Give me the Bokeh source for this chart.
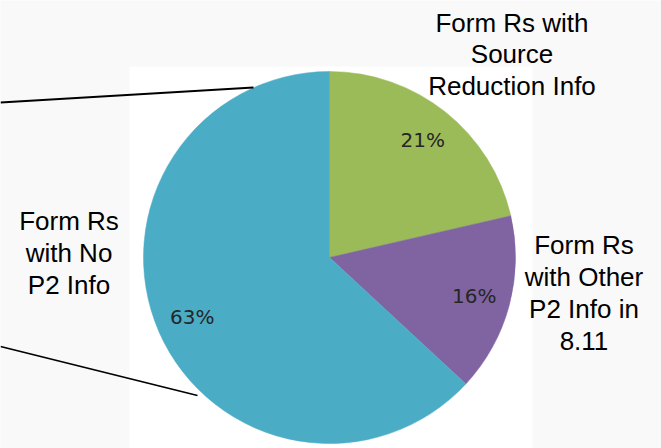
import math
from bokeh.plotting import figure
from bokeh.models import Range1d, ColumnDataSource
from bokeh.core.properties import value
from bokeh.embed import file_html
from bokeh.resources import INLINE

# ---- data ----
categories = ["Form Rs with\nSource\nReduction Info",
              "Form Rs\nwith Other\nP2 Info in\n8.11",
              "Form Rs\nwith No\nP2 Info"]
shares = [21.4, 15.5, 63.1]
colors = ["#9BBB59", "#8064A2", "#4BACC6"]
pct_labels = ["%d%%" % round(s) for s in shares]

W, H = 661, 448
p = figure(width=W, height=H, output_backend="svg", toolbar_location=None,
           x_range=Range1d(0, W), y_range=Range1d(0, H),
           min_border=0, background_fill_color="#f9f9f9",
           border_fill_color="#f9f9f9")
p.axis.visible = False
p.grid.visible = False
p.outline_line_color = None

# white plot-area panel
p.quad(left=129, right=532, bottom=-20, top=382, fill_color="white", line_color=None)

cx, cy, r = 329, 191, 186
total = sum(shares)
starts, ends, lx, ly = [], [], [], []
cum = 0.0
for s in shares:
    a_end = math.pi / 2 - 2 * math.pi * cum / total
    cum += s
    a_start = math.pi / 2 - 2 * math.pi * cum / total
    starts.append(a_start)
    ends.append(a_end)
    mid = (a_start + a_end) / 2
    lx.append(cx + 0.805 * r * math.cos(mid))
    ly.append(cy + 0.805 * r * math.sin(mid))

src = ColumnDataSource(dict(start=starts, end=ends, color=colors,
                            lx=lx, ly=ly, pct=pct_labels))
p.wedge(x=cx, y=cy, radius=r, start_angle="start", end_angle="end",
        direction="anticlock", fill_color="color", line_color="color",
        line_width=0.5, source=src)

p.text(x="lx", y="ly", text="pct", source=src, text_font=value("DejaVu Sans"),
       text_font_size="20px", text_color="#262626", text_align="center",
       text_baseline="middle")

# leader lines
p.line(x=[0, 253], y=[346, 361], line_color="black", line_width=1.8)
p.line(x=[0, 197], y=[102, 53], line_color="black", line_width=1.8)

# category labels
label_x = [511.5, 583.5, 68.5]
label_y = [394, 155.5, 195.3]
p.text(x=label_x, y=label_y, text=categories, text_font=value("Liberation Sans"),
       text_font_size="26px", text_color="black", text_align="center",
       text_baseline="middle", text_line_height=1.06)

open("out.html", "w").write(file_html(p, INLINE))
